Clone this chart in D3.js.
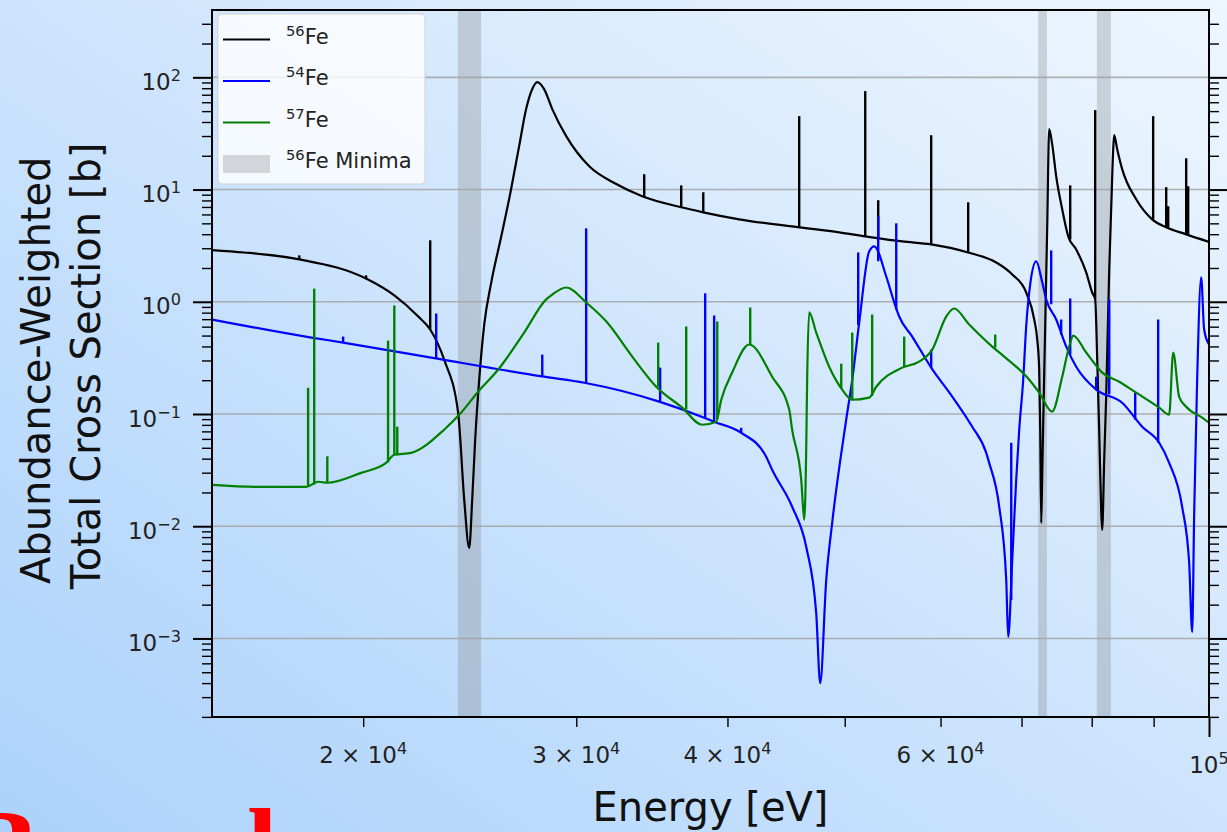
<!DOCTYPE html>
<html>
<head>
<meta charset="utf-8">
<script src="https://cdn.jsdelivr.net/npm/d3@7"></script>
<style>
  html, body { margin: 0; padding: 0; overflow: hidden; background: #cfe5fc; }
  svg { display: block; font-family: "DejaVu Sans", sans-serif; }
</style>
</head>
<body>
<svg id="chart" width="1227" height="832"></svg>
<script>
// ---- Abundance-weighted total cross sections (energy in eV, sigma in barns) ----
const fe56Curve = [
  [15000, 2.89], [15950, 2.75], [17710, 2.39], [20110, 1.61], [21220, 1.14],
  [22210, 0.739], [22720, 0.566], [23330, 0.305], [23960, 0.103], [24240, 0.0172],
  [24470, 0.0064], [24610, 0.0172], [24750, 0.0589], [24940, 0.202], [25180, 0.627],
  [25520, 1.49], [26010, 3.83], [26400, 8.19], [26910, 24.4], [27270, 52.1],
  [27590, 78.6], [27850, 90.8], [28220, 78.6], [28660, 52.1], [29430, 29.9],
  [30750, 16.1], [32370, 11.2], [34010, 8.71], [36630, 6.95], [38200, 6.27],
  [40900, 5.43], [45850, 4.61], [49480, 4.16], [51990, 3.83], [52680, 3.75],
  [55780, 3.45], [58940, 3.25], [63240, 2.75], [66700, 2.24], [68770, 1.75],
  [70620, 1.21], [71710, 0.695], [72120, 0.461], [72390, 0.249], [72530, 0.0724],
  [72670, 0.0107], [72810, 0.0294], [72940, 0.080], [73220, 0.602], [73500, 4.61],
  [73780, 34.5], [74200, 25.4], [74770, 13.1], [75630, 6.67], [76500, 3.83],
  [77670, 2.93], [79160, 1.83], [80070, 1.21], [80530, 1.05], [80840, 0.305],
  [81140, 0.0724], [81450, 0.0140], [81610, 0.00927], [81920, 0.0391], [82230, 0.143],
  [82700, 1.86], [83020, 6.81], [83340, 22.9], [83490, 30.5], [83970, 22.9],
  [84770, 15.2], [87060, 8.19], [89750, 5.43], [92180, 4.61], [95750, 3.99],
  [100000, 3.42]
];
// narrow resonances: [energy, sigma at foot, sigma at top]
const fe56Peaks = [
  [17710, 2.39, 2.59], [20110, 1.61, 1.72], [22720, 0.566, 3.53], [34140, 8.5, 13.7],
  [36630, 6.95, 10.9], [38200, 6.27, 9.46], [45850, 4.61, 45.1], [51990, 3.83, 75.4],
  [53290, 3.75, 8.03], [58940, 3.25, 30.5], [63240, 2.75, 7.70], [76790, 3.6, 10.9],
  [80530, 1.05, 51.1], [89920, 5.4, 45.1], [92180, 4.61, 10.5], [92530, 4.55, 7.10],
  [95750, 3.99, 19.0], [96110, 3.9, 10.7]
];

const fe54Curve = [
  [15000, 0.695], [18120, 0.480], [19250, 0.433], [22760, 0.318], [28220, 0.215],
  [30460, 0.190], [35130, 0.129], [38270, 0.0927], [39000, 0.0853], [41060, 0.0681],
  [43060, 0.0416], [43550, 0.0318], [45240, 0.0149], [46470, 0.00653], [47360, 0.00168],
  [47720, 0.000399], [48270, 0.00332], [48820, 0.0107], [50140, 0.0889], [50720, 0.202],
  [51400, 0.654], [52380, 2.81], [52890, 3.12], [54110, 1.68], [54940, 0.986],
  [55460, 0.739], [56850, 0.490], [58940, 0.259], [61350, 0.143], [63730, 0.0770],
  [65450, 0.0451], [65820, 0.0367], [67090, 0.0149], [67990, 0.00332], [68240, 0.00103],
  [68770, 0.0050], [69290, 0.0259], [69690, 0.0724], [70220, 0.202], [70620, 0.602],
  [71160, 1.43], [71980, 2.29], [72810, 1.49], [73360, 1.05], [74770, 0.695],
  [76210, 0.399], [77670, 0.264], [80680, 0.165], [84770, 0.126], [88060, 0.0770],
  [90960, 0.0554], [92700, 0.0367], [95020, 0.0149], [96300, 0.00470], [96850, 0.00114],
  [97220, 0.0131], [97770, 0.202], [98520, 1.65], [99080, 0.566], [100000, 0.416]
];
const fe54Peaks = [
  [19250, 0.433, 0.490], [22980, 0.31, 0.786], [28120, 0.215, 0.338], [30570, 0.186, 4.51],
  [35190, 0.129, 0.259], [38340, 0.0927, 1.19], [39000, 0.0853, 0.755], [41060, 0.068, 0.0754],
  [51300, 0.62, 2.75], [53290, 2.3, 5.78], [55150, 0.85, 5.00], [58940, 0.259, 0.375],
  [68640, 0.0022, 0.0554], [74060, 0.95, 2.87], [75480, 0.51, 0.695], [76790, 0.34, 1.07],
  [80680, 0.165, 0.215], [82700, 0.15, 1.05], [86900, 0.089, 0.155], [90780, 0.0554, 0.695]
];

const fe57Curve = [
  [15000, 0.0234], [16470, 0.0224], [17940, 0.0224], [18360, 0.0249], [18680, 0.0244],
  [19920, 0.0299], [20890, 0.0367], [21220, 0.0433], [21910, 0.0451], [23330, 0.0724],
  [24100, 0.103], [24890, 0.158], [25860, 0.249], [27170, 0.532], [28330, 1.05],
  [28660, 1.16], [29430, 1.34], [30570, 0.986], [31820, 0.654], [33370, 0.325],
  [34930, 0.175], [36700, 0.114], [38120, 0.0802], [39150, 0.0853], [39530, 0.134],
  [40360, 0.234], [41690, 0.416], [43550, 0.215], [44990, 0.109], [45240, 0.0724],
  [46030, 0.0259], [46290, 0.0114], [46470, 0.0510], [46550, 0.202], [46730, 0.803],
  [47360, 0.532], [48540, 0.264], [49760, 0.165], [50720, 0.134], [52380, 0.140],
  [53090, 0.175], [55780, 0.259], [57610, 0.293], [59060, 0.375], [60650, 0.739],
  [61580, 0.871], [63360, 0.627], [66200, 0.399], [67730, 0.325], [71030, 0.202],
  [72390, 0.155], [74200, 0.105], [75630, 0.215], [76640, 0.399], [77230, 0.500],
  [79160, 0.353], [81610, 0.234], [84290, 0.194], [87060, 0.155], [90960, 0.114],
  [92700, 0.0986], [93410, 0.353], [94490, 0.142], [95750, 0.116], [98710, 0.0927],
  [100000, 0.0836]
];
const fe57Peaks = [
  [18010, 0.0224, 0.171], [18220, 0.0234, 1.31], [18680, 0.0244, 0.042], [20970, 0.037, 0.451],
  [21220, 0.0433, 0.927], [21340, 0.044, 0.077], [35060, 0.175, 0.433], [36980, 0.11, 0.602],
  [39230, 0.09, 0.667], [41770, 0.416, 0.889], [49670, 0.168, 0.281], [50720, 0.134, 0.532],
  [52680, 0.145, 0.770], [55990, 0.264, 0.490], [66580, 0.39, 0.511]
];

// energy windows around the 56Fe cross-section minima
const minimaBands = [[23950, 25030], [72250, 73460], [80790, 82970]];

// axis ticks
const xMinorTicks = [20000, 30000, 40000, 50000, 60000, 70000, 80000, 90000];
const xMajorTicks = [100000];
const xLabelValues = [20000, 30000, 40000, 60000, 100000];
const xLabelMantissa = ["2", "3", "4", "6", ""];
const yMajorExponents = [-3, -2, -1, 0, 1, 2];

const seriesColors = { fe56: "#000000", fe54: "#0000ff", fe57: "#008000" };

// ---- layout ----
const W = 1227, H = 832;
const plot = { left: 212, right: 1209, top: 10, bottom: 717 };

const svg = d3.select("#chart");
const defs = svg.append("defs");

const grad = defs.append("linearGradient").attr("id", "bg")
  .attr("x1", 0).attr("y1", 1).attr("x2", 1).attr("y2", 0);
grad.append("stop").attr("offset", 0).attr("stop-color", "#acd2fb");
grad.append("stop").attr("offset", 1).attr("stop-color", "#eef6fe");
svg.append("rect").attr("width", W).attr("height", H).attr("fill", "url(#bg)");

defs.append("clipPath").attr("id", "plotClip").append("rect")
  .attr("x", plot.left).attr("y", plot.top)
  .attr("width", plot.right - plot.left).attr("height", plot.bottom - plot.top);

const x = d3.scaleLog().domain([15000, 100000]).range([plot.left, plot.right]);
const y = d3.scaleLog().domain([Math.pow(10, -3.7), Math.pow(10, 2.6)]).range([plot.bottom, plot.top]);

const yMajor = yMajorExponents.map(e => Math.pow(10, e));
const yMinor = [];
for (let e = -4; e <= 2; e++) {
  for (let k = 2; k <= 9; k++) {
    const v = k * Math.pow(10, e);
    if (v >= y.domain()[0] && v <= y.domain()[1]) yMinor.push(v);
  }
}

const body = svg.append("g").attr("clip-path", "url(#plotClip)");

// minima bands
body.selectAll("rect.band").data(minimaBands).join("rect")
  .attr("class", "band")
  .attr("x", d => x(d[0])).attr("width", d => x(d[1]) - x(d[0]))
  .attr("y", plot.top).attr("height", plot.bottom - plot.top)
  .attr("fill", "#808080").attr("fill-opacity", 0.3);

// horizontal grid at decades
body.selectAll("line.grid").data(yMajor).join("line")
  .attr("class", "grid")
  .attr("x1", plot.left).attr("x2", plot.right)
  .attr("y1", d => y(d)).attr("y2", d => y(d))
  .attr("stroke", "#a3a3a3").attr("stroke-opacity", 0.85).attr("stroke-width", 1.6);

const line = d3.line().x(d => x(d[0])).y(d => y(d[1])).curve(d3.curveMonotoneX);

function drawSeries(curve, peaks, color) {
  const g = body.append("g");
  g.append("path").datum(curve)
    .attr("d", line).attr("fill", "none")
    .attr("stroke", color).attr("stroke-width", 2.2).attr("stroke-linejoin", "round");
  g.selectAll("path.peak").data(peaks).join("path")
    .attr("class", "peak")
    .attr("d", d => `M${x(d[0])},${y(d[1])}L${x(d[0])},${y(d[2])}`)
    .attr("stroke", color).attr("stroke-width", 2.4).attr("fill", "none");
}
drawSeries(fe56Curve, fe56Peaks, seriesColors.fe56);
drawSeries(fe54Curve, fe54Peaks, seriesColors.fe54);
drawSeries(fe57Curve, fe57Peaks, seriesColors.fe57);

// ---- axes ----
function styleAxis(g, width) {
  g.select(".domain").remove();
  g.selectAll(".tick line").attr("stroke", "#000").attr("stroke-width", width);
}
svg.append("g").attr("transform", `translate(${plot.left},0)`)
  .call(d3.axisLeft(y).tickValues(yMajor).tickSize(19).tickFormat(""))
  .call(g => styleAxis(g, 2));
svg.append("g").attr("transform", `translate(${plot.left},0)`)
  .call(d3.axisLeft(y).tickValues(yMinor).tickSize(10).tickFormat(""))
  .call(g => styleAxis(g, 1.4));
svg.append("g").attr("transform", `translate(${plot.right},0)`)
  .call(d3.axisRight(y).tickValues(yMajor).tickSize(19).tickFormat(""))
  .call(g => styleAxis(g, 2));
svg.append("g").attr("transform", `translate(${plot.right},0)`)
  .call(d3.axisRight(y).tickValues(yMinor).tickSize(10).tickFormat(""))
  .call(g => styleAxis(g, 1.4));
svg.append("g").attr("transform", `translate(0,${plot.bottom})`)
  .call(d3.axisBottom(x).tickValues(xMinorTicks).tickSize(10).tickFormat(""))
  .call(g => styleAxis(g, 1.4));
svg.append("g").attr("transform", `translate(0,${plot.bottom})`)
  .call(d3.axisBottom(x).tickValues(xMajorTicks).tickSize(20).tickFormat(""))
  .call(g => styleAxis(g, 2));

// frame
svg.append("rect")
  .attr("x", plot.left).attr("y", plot.top)
  .attr("width", plot.right - plot.left).attr("height", plot.bottom - plot.top)
  .attr("fill", "none").attr("stroke", "#000").attr("stroke-width", 2);

// tick labels
const tickFont = 23;
const yLabels = svg.append("g").attr("font-size", tickFont).attr("fill", "#222");
yMajorExponents.forEach(e => {
  const t = yLabels.append("text")
    .attr("x", 181).attr("y", y(Math.pow(10, e)) + 12.7)
    .attr("text-anchor", "end");
  t.append("tspan").text("10");
  t.append("tspan").attr("dy", -9).attr("font-size", tickFont * 0.7)
    .text(e < 0 ? "\u2212" + Math.abs(e) : String(e));
});

const xLabels = svg.append("g").attr("font-size", tickFont).attr("fill", "#222");
xLabelValues.forEach((v, i) => {
  const exp = Math.floor(Math.log10(v) + 1e-9);
  const major = xMajorTicks.includes(v);
  const t = xLabels.append("text")
    .attr("x", x(v)).attr("y", plot.bottom + (major ? 56 : 46))
    .attr("text-anchor", "middle");
  t.append("tspan").text(xLabelMantissa[i] ? xLabelMantissa[i] + " \u00d7 10" : "10");
  t.append("tspan").attr("dy", -9).attr("font-size", tickFont * 0.7).text(String(exp));
});

// axis titles
svg.append("text")
  .attr("x", (plot.left + plot.right) / 2).attr("y", 821)
  .attr("text-anchor", "middle").attr("font-size", 40).attr("fill", "#111")
  .text("Energy [eV]");
svg.append("text")
  .attr("transform", "translate(50,584) rotate(-90)")
  .attr("font-size", 40).attr("fill", "#111")
  .text("Abundance-Weighted");
svg.append("text")
  .attr("transform", "translate(100,589) rotate(-90)")
  .attr("font-size", 40).attr("fill", "#111")
  .text("Total Cross Section [b]");

// ---- legend ----
const legendItems = [
  { mass: "56", name: "Fe", color: seriesColors.fe56, kind: "line" },
  { mass: "54", name: "Fe", color: seriesColors.fe54, kind: "line" },
  { mass: "57", name: "Fe", color: seriesColors.fe57, kind: "line" },
  { mass: "56", name: "Fe Minima", color: "#808080", kind: "patch" }
];
const legend = svg.append("g");
legend.append("rect")
  .attr("x", 218).attr("y", 14).attr("width", 207).attr("height", 170).attr("rx", 4)
  .attr("fill", "#ffffff").attr("fill-opacity", 0.8)
  .attr("stroke", "#cccccc").attr("stroke-opacity", 0.8);
const legendFont = 21;
legendItems.forEach((d, i) => {
  const cy = 39.5 + i * 41.5;
  if (d.kind === "line") {
    legend.append("line").attr("x1", 223).attr("x2", 270).attr("y1", cy).attr("y2", cy)
      .attr("stroke", d.color).attr("stroke-width", 2.2);
  } else {
    legend.append("rect").attr("x", 223).attr("y", cy - 9).attr("width", 47).attr("height", 18)
      .attr("fill", d.color).attr("fill-opacity", 0.3);
  }
  const t = legend.append("text").attr("x", 286).attr("y", cy + 4)
    .attr("font-size", legendFont).attr("fill", "#222");
  t.append("tspan").attr("dy", -8).attr("font-size", legendFont * 0.7).text(d.mass);
  t.append("tspan").attr("dy", 8).text(d.name);
});

// section heading below the figure, cut by the page edge
svg.append("text")
  .attr("x", -35).attr("y", 885)
  .attr("font-family", "'Liberation Serif', serif").attr("font-weight", "bold")
  .attr("font-size", 110).attr("fill", "#ff0000")
  .text("Bound");
</script>
</body>
</html>
